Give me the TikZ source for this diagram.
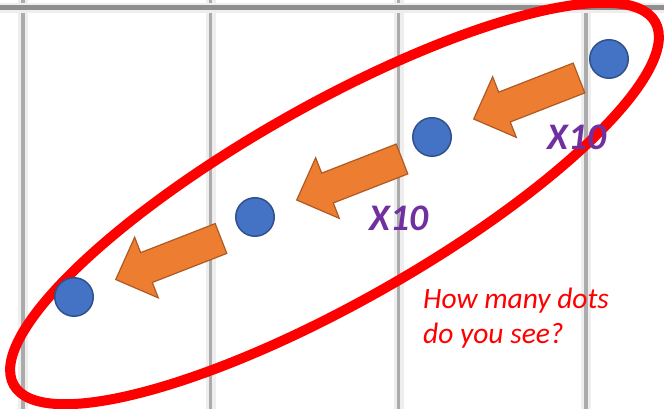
\documentclass[tikz,border=0pt]{standalone}
\usepackage{fontspec}
\newfontfamily\calibri{Carlito}
\usetikzlibrary{shapes.geometric}
\definecolor{ringred}{HTML}{FF0000}
\definecolor{dotblue}{HTML}{4472C4}
\definecolor{dotedge}{HTML}{2F528F}
\definecolor{arrowfill}{HTML}{ED7D31}
\definecolor{arrowedge}{HTML}{AE5A21}
\definecolor{countpurple}{HTML}{7030A0}
\definecolor{gridcore}{HTML}{ABABAB}
\definecolor{gridhalo}{HTML}{EEEEEE}
\definecolor{gridtop}{HTML}{8F8F8F}

\tikzset{pics/blockarrow/.style={code={
  \draw[arrowbody] (0,16) -- (80,16) -- (80,32.5) -- (113,0) -- (80,-32.5) -- (80,-16) -- (0,-16) -- cycle;
}}}

\begin{document}
\begin{tikzpicture}[
    x=1pt, y=1pt,
    halo/.style={draw=gridhalo, line width=10pt},
    gridline/.style={draw=gridcore, line width=3.5pt},
    ring/.style={ellipse, draw=ringred, line width=10pt, inner sep=0pt, minimum width=737pt, minimum height=197pt},
    dot/.style={circle, fill=dotblue, draw=dotedge, line width=1.5pt, minimum size=38.5pt, inner sep=0pt},
    arrowbody/.style={fill=arrowfill, draw=arrowedge, line width=1.2pt, line join=miter},
    count/.style={font=\calibri\bfseries\itshape\fontsize{37.5}{40}\selectfont, text=countpurple, inner sep=0pt},
    question/.style={font=\calibri\itshape\fontsize{29.5}{35}\selectfont, text=ringred, align=left, inner sep=0pt}
]
\useasboundingbox (0,0) rectangle (664,409);

% grid of the sheet
\foreach \gx in {23,210.5,398.7,586} {
  \draw[halo] (\gx,0) -- (\gx,409);
  \draw[gridline] (\gx,0) -- (\gx,409);
}
\draw[halo] (0,401) -- (664,401);
\draw[draw=gridtop, line width=5pt] (0,401) -- (664,401);

% the ring round the dots
\node[ring, rotate=29.5] (ring) at (334.5,205.5) {};

% arrows
\pic[rotate=201.3] (arrowA) at (579,331) {blockarrow};
\pic[rotate=201.3] (arrowB) at (402,250) {blockarrow};
\pic[rotate=201.3] (arrowC) at (221,170.5) {blockarrow};

% dots
\node[dot] (dot1) at (609,350) {};
\node[dot] (dot2) at (432,272) {};
\node[dot] (dot3) at (255,192) {};
\node[dot] (dot4) at (74,112) {};

% labels
\node[count] (times1) at (577,271.5) {X10};
\node[count] (times2) at (399,190.5) {X10};
\node[question, anchor=north west] (ask) at (423,121.5) {How many dots\\do you see?};
\end{tikzpicture}
\end{document}
